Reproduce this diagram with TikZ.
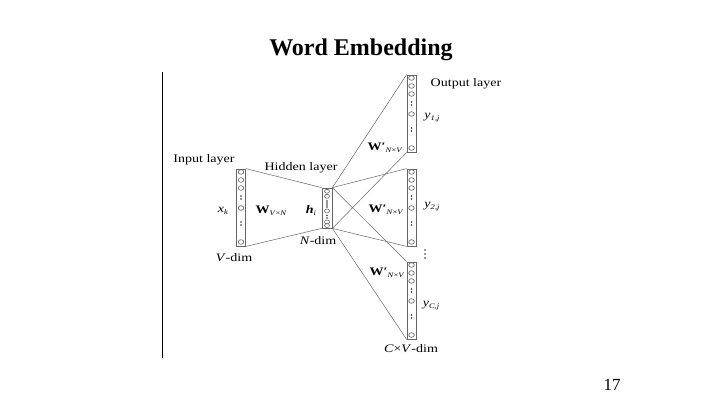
\documentclass[tikz,border=0pt]{standalone}
\usepackage{fontspec}
\setmainfont{Liberation Serif}
\usetikzlibrary{calc}
\newcommand\stx[1]{\scalebox{1.22}[1]{#1}}
\newcommand\sbs[1]{\raisebox{-2pt}{\fontsize{7}{8}\selectfont #1}}
\newcommand\pr{\textbf{′}}
\tikzset{
  colbox/.style={draw=black!60, line width=0.8pt, minimum width=9pt, minimum height=77pt, inner sep=0pt},
  hidbox/.style={draw=black!60, line width=0.8pt, minimum width=10pt, minimum height=40pt, inner sep=0pt},
  circ/.style={draw=black!60, line width=0.6pt},
  wire/.style={draw=black!60, line width=0.5pt},
  lbl/.style={font=\fontsize{11.5}{13}\selectfont, inner sep=0pt},
}
\newcommand\vcol[3]{%
  \node[colbox] (#1) at (#2,#3+38.5) {};
  \foreach \d in {3,11,19,39,73} \draw[circ] (#2,#3+\d) ellipse (2.8 and 2.3);
  \foreach \d in {27,30,53,56} \fill[black!80] (#2,#3+\d) circle (0.9);
}
\begin{document}
\begin{tikzpicture}[x=1pt,y=-1pt]
\useasboundingbox (0,0) rectangle (720,405);
\fill[white] (0,0) rectangle (720,405);
% title
\node[font=\fontsize{24}{28}\selectfont\bfseries] (title) at (361,50) {Word Embedding};
% vertical rule
\coordinate (ra) at (162,72);
\coordinate (rb) at (162,358);
\draw[line width=0.9pt] (ra) -- (rb);
% columns
\vcol{inp}{241}{169}
\vcol{outa}{411.5}{75}
\vcol{outb}{411.5}{169}
\vcol{outc}{411.5}{262}
\node[hidbox] (hid) at (327,208) {};
\foreach \d in {3.3,8.3,23,34,37.5} \draw[circ] (327,188+\d) ellipse (2.5 and 2);
\foreach \d in {13,15,17,19,27.5,30} \fill[black!80] (327,188+\d) circle (0.8);
% wires
\draw[wire] (inp.north east) -- (hid.north west);
\draw[wire] (inp.south east) -- (hid.south west);
\foreach \o in {outa,outb,outc}{
  \draw[wire] (hid.north east) -- (\o.north west);
  \draw[wire] (hid.south east) -- (\o.south west);
}
% labels
\node[lbl] (l1) at (204,160) {\stx{Input layer}};
\node[lbl] (l2) at (301,168) {\stx{Hidden layer}};
\node[lbl] (l3) at (466,84) {\stx{Output layer}};
\node[lbl] (xk) at (223,211) {\stx{\textit{x}\sbs{\textit{k}}}};
\node[lbl] (w1) at (271,211) {\stx{\textbf{W}\sbs{\textit{V}×\textit{N}}}};
\node[lbl] (hi) at (311,211) {\stx{\textbf{\textit{h}}\sbs{\textit{i}}}};
\node[lbl] (nd) at (318,241) {\stx{\textit{N}-dim}};
\node[lbl] (vd) at (234,258) {\stx{\textit{V}-dim}};
\node[lbl] (y1) at (432,118) {\stx{\textit{y}\sbs{\textit{1,j}}}};
\node[lbl] (y2) at (432,207) {\stx{\textit{y}\sbs{\textit{2,j}}}};
\node[lbl] (y3) at (431,306) {\stx{\textit{y}\sbs{\textit{C,j}}}};
\node[lbl] (wa) at (385,148) {\stx{\textbf{W}\pr\sbs{\textit{N}×\textit{V}}}};
\node[lbl] (wb) at (386,210) {\stx{\textbf{W}\pr\sbs{\textit{N}×\textit{V}}}};
\node[lbl] (wc) at (387,273) {\stx{\textbf{W}\pr\sbs{\textit{N}×\textit{V}}}};
\node[lbl] (cv) at (411,349) {\stx{\textit{C}×\textit{V}-dim}};
\foreach \d in {250,254,258} \fill[black!80] (425,\d) circle (0.9);
\node[font=\fontsize{17}{20}\selectfont] (pg) at (612,385) {17};
\end{tikzpicture}
\end{document}
